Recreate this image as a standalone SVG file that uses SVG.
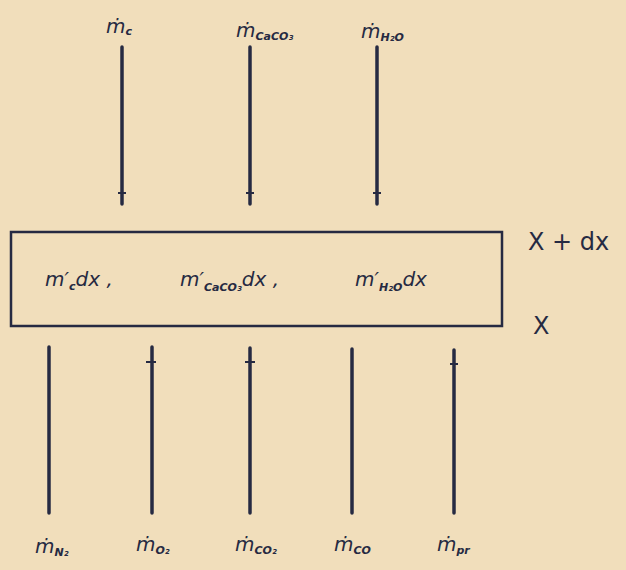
<svg xmlns="http://www.w3.org/2000/svg" width="626" height="570" viewBox="0 0 626 570">
<style>
.bg{fill:#f1debb}
.ln{stroke:#262a42;stroke-width:3.5;stroke-linecap:round;fill:none}
.tk{stroke:#262a42;stroke-width:2;fill:none}
.bx{stroke:#262a42;stroke-width:2.5;fill:none}
text{font-family:"DejaVu Sans","Liberation Sans",sans-serif;font-style:italic;fill:#262a42}
.lb{font-size:20px}
.sb{font-size:11px;font-weight:bold}
.in{font-size:20px}
.is{font-size:11px;font-weight:bold}
.xl{font-size:24px;font-style:normal}
</style>
<rect class="bg" x="0" y="0" width="626" height="570"/>
<g id="connectors">
<line class="ln" x1="122" y1="47" x2="122" y2="204"/>
<line class="ln" x1="250" y1="47" x2="250" y2="204"/>
<line class="ln" x1="377" y1="47" x2="377" y2="204"/>
<line class="tk" x1="118" y1="193" x2="126" y2="193"/>
<line class="tk" x1="246" y1="193" x2="254" y2="193"/>
<line class="tk" x1="373" y1="193" x2="381" y2="193"/>
<line class="ln" x1="49" y1="347" x2="49" y2="513"/>
<line class="ln" x1="152" y1="347" x2="152" y2="513"/>
<line class="ln" x1="250" y1="348" x2="250" y2="513"/>
<line class="ln" x1="352" y1="349" x2="352" y2="513"/>
<line class="ln" x1="454" y1="350" x2="454" y2="513"/>
<line class="tk" x1="146" y1="362" x2="156" y2="362"/>
<line class="tk" x1="245" y1="362" x2="255" y2="362"/>
<line class="tk" x1="450" y1="364" x2="458" y2="364"/>
</g>
<g id="top-labels">
<text class="lb" x="106" y="33">ṁ<tspan class="sb" dy="2">c</tspan></text>
<text class="lb" x="236" y="37">ṁ<tspan class="sb" dy="3">CaCO₃</tspan></text>
<text class="lb" x="361" y="38">ṁ<tspan class="sb" dy="3">H₂O</tspan></text>
</g>
<g id="control-volume">
<rect class="bx" x="11" y="232" width="491" height="94"/>
<text class="in" x="45" y="286">m′<tspan class="is" dy="4">c</tspan><tspan dy="-4">dx ,</tspan></text>
<text class="in" x="180" y="286">m′<tspan class="is" dy="5">CaCO₃</tspan><tspan dy="-5">dx ,</tspan></text>
<text class="in" x="355" y="286">m′<tspan class="is" dy="5">H₂O</tspan><tspan dy="-5">dx</tspan></text>
</g>
<g id="boundaries">
<text class="xl" x="528" y="250">X + dx</text>
<text class="xl" x="533" y="334">X</text>
</g>
<g id="bottom-labels">
<text class="lb" x="35" y="553">ṁ<tspan class="sb" dy="3">N₂</tspan></text>
<text class="lb" x="136" y="551">ṁ<tspan class="sb" dy="3">O₂</tspan></text>
<text class="lb" x="235" y="551">ṁ<tspan class="sb" dy="3">CO₂</tspan></text>
<text class="lb" x="334" y="551">ṁ<tspan class="sb" dy="3">CO</tspan></text>
<text class="lb" x="437" y="551">ṁ<tspan class="sb" dy="3">pr</tspan></text>
</g>
</svg>
